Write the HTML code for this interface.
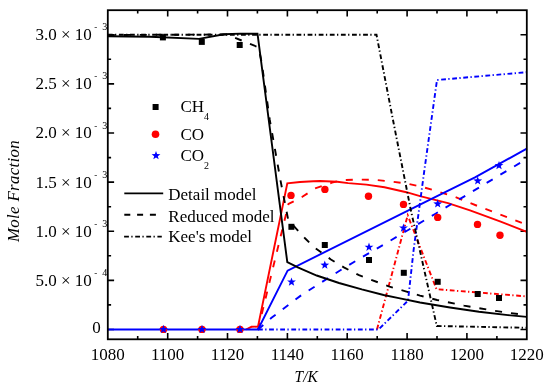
<!DOCTYPE html>
<html><head><meta charset="utf-8"><style>
html,body{margin:0;padding:0;background:#fff;}
svg{display:block;will-change:transform;}
text{font-family:"Liberation Serif",serif;font-size:17px;fill:#000;}
</style></head><body>
<svg width="550" height="392" viewBox="0 0 550 392">
<rect width="550" height="392" fill="#fff"/>
<path d="M137.7,339.3v-3.3M137.7,10.2v3.3M167.7,339.3v-6.3M167.7,10.2v6.3M197.6,339.3v-3.3M197.6,10.2v3.3M227.5,339.3v-6.3M227.5,10.2v6.3M257.4,339.3v-3.3M257.4,10.2v3.3M287.4,339.3v-6.3M287.4,10.2v6.3M317.3,339.3v-3.3M317.3,10.2v3.3M347.2,339.3v-6.3M347.2,10.2v6.3M377.2,339.3v-3.3M377.2,10.2v3.3M407.1,339.3v-6.3M407.1,10.2v6.3M437.0,339.3v-3.3M437.0,10.2v3.3M466.9,339.3v-6.3M466.9,10.2v6.3M496.9,339.3v-3.3M496.9,10.2v3.3M107.8,329.5h6.3M526.8,329.5h-6.3M107.8,304.9h3.3M526.8,304.9h-3.3M107.8,280.4h6.3M526.8,280.4h-6.3M107.8,255.8h3.3M526.8,255.8h-3.3M107.8,231.2h6.3M526.8,231.2h-6.3M107.8,206.7h3.3M526.8,206.7h-3.3M107.8,182.1h6.3M526.8,182.1h-6.3M107.8,157.6h3.3M526.8,157.6h-3.3M107.8,133.0h6.3M526.8,133.0h-6.3M107.8,108.4h3.3M526.8,108.4h-3.3M107.8,83.9h6.3M526.8,83.9h-6.3M107.8,59.3h3.3M526.8,59.3h-3.3M107.8,34.8h6.3M526.8,34.8h-6.3" stroke="#000" stroke-width="1.6" fill="none"/>
<polyline points="246.0,329.5 251.5,326.8 258.0,326.6 287.3,183.4 300.0,182.0 313.3,181.2 320.0,181.0 337.3,181.8 348.2,183.1 366.4,184.6 384.5,187.3 406.4,192.2 420.0,196.2 448.0,203.2 470.0,210.3 500.0,221.3 526.8,231.8" fill="none" stroke="#ff0000" stroke-width="1.9" stroke-linejoin="miter"/>
<polyline points="258.0,329.5 288.5,204.0 302.0,197.0 315.0,188.5 332.0,182.7 341.0,180.2 357.0,179.5 375.0,179.8 392.0,181.6 407.0,183.6 421.0,186.6 434.0,190.3 453.6,196.4 480.9,207.3 510.0,218.2 526.8,224.8" fill="none" stroke="#ff0000" stroke-width="1.9" stroke-dasharray="7 9" stroke-linejoin="miter"/>
<polyline points="377.0,329.5 407.7,215.3 436.5,289.2 526.8,296.4" fill="none" stroke="#ff0000" stroke-width="1.9" stroke-dasharray="4.8 2.4 1.3 2.6" stroke-linejoin="miter"/>
<polyline points="107.8,329.5 258.0,329.5 287.6,270.6 430.0,199.6 475.0,177.4 526.8,148.6" fill="none" stroke="#0000ff" stroke-width="1.9" stroke-linejoin="miter"/>
<polyline points="258.0,329.5 271.5,317.8 301.6,295.0 344.0,268.0 359.0,259.0 388.1,242.0 435.5,213.7 526.8,158.8" fill="none" stroke="#0000ff" stroke-width="1.9" stroke-dasharray="7 9" stroke-linejoin="miter"/>
<polyline points="258.0,329.5 378.5,329.5 408.0,300.7 413.6,250.0 424.4,170.0 437.0,80.0 526.8,72.2" fill="none" stroke="#0000ff" stroke-width="1.9" stroke-dasharray="4.8 2.4 1.3 2.6" stroke-linejoin="miter"/>
<polyline points="107.8,36.2 150.0,36.8 199.0,38.9 224.0,34.2 240.0,33.6 257.5,33.7 287.3,262.2 298.4,267.7 316.7,275.5 339.0,283.0 361.8,289.4 383.6,295.0 400.0,298.4 420.0,302.5 450.0,307.5 479.0,311.8 508.0,315.1 526.8,316.9" fill="none" stroke="#000" stroke-width="1.9" stroke-linejoin="miter"/>
<polyline points="107.8,35.0 226.6,34.5 241.6,40.5 258.4,47.3 261.6,62.0 269.8,120.0 280.4,180.0 288.2,219.8 305.0,238.3 314.5,247.5 330.9,259.5 343.9,267.4 359.0,275.2 389.6,286.7 420.0,295.6 437.0,300.0 464.0,305.6 494.5,310.8 526.8,315.3" fill="none" stroke="#000" stroke-width="1.9" stroke-dasharray="7 9" stroke-linejoin="miter"/>
<polyline points="107.8,34.8 376.5,34.8 393.0,120.0 410.8,210.0 436.8,326.0 526.8,327.8" fill="none" stroke="#000" stroke-width="1.9" stroke-dasharray="4.8 2.4 1.3 2.6" stroke-linejoin="miter"/>
<rect x="159.9" y="34.4" width="6.0" height="6.0" fill="#000"/>
<rect x="198.8" y="38.9" width="6.0" height="6.0" fill="#000"/>
<rect x="236.7" y="42.0" width="6.0" height="6.0" fill="#000"/>
<rect x="288.4" y="223.8" width="6.0" height="6.0" fill="#000"/>
<rect x="321.8" y="242.0" width="6.0" height="6.0" fill="#000"/>
<rect x="366.0" y="257.0" width="6.0" height="6.0" fill="#000"/>
<rect x="400.8" y="269.8" width="6.0" height="6.0" fill="#000"/>
<rect x="434.7" y="278.8" width="6.0" height="6.0" fill="#000"/>
<rect x="474.7" y="291.0" width="6.0" height="6.0" fill="#000"/>
<rect x="496.0" y="295.0" width="6.0" height="6.0" fill="#000"/>
<circle cx="163.5" cy="329.4" r="3.7" fill="#ff0000"/>
<circle cx="202" cy="329.4" r="3.7" fill="#ff0000"/>
<circle cx="240" cy="329.4" r="3.7" fill="#ff0000"/>
<circle cx="291" cy="195.4" r="3.7" fill="#ff0000"/>
<circle cx="324.9" cy="189.4" r="3.7" fill="#ff0000"/>
<circle cx="368.5" cy="196.3" r="3.7" fill="#ff0000"/>
<circle cx="403.5" cy="204.4" r="3.7" fill="#ff0000"/>
<circle cx="437.7" cy="217.4" r="3.7" fill="#ff0000"/>
<circle cx="477.5" cy="224.4" r="3.7" fill="#ff0000"/>
<circle cx="500" cy="235.3" r="3.7" fill="#ff0000"/>
<polygon points="163.5,324.8 164.6,327.9 167.9,328.0 165.3,330.0 166.2,333.1 163.5,331.3 160.8,333.1 161.7,330.0 159.1,328.0 162.4,327.9" fill="#0000ff"/>
<polygon points="202.0,324.8 203.1,327.9 206.4,328.0 203.8,330.0 204.7,333.1 202.0,331.3 199.3,333.1 200.2,330.0 197.6,328.0 200.9,327.9" fill="#0000ff"/>
<polygon points="240.0,324.8 241.1,327.9 244.4,328.0 241.8,330.0 242.7,333.1 240.0,331.3 237.3,333.1 238.2,330.0 235.6,328.0 238.9,327.9" fill="#0000ff"/>
<polygon points="291.5,277.4 292.6,280.5 295.9,280.6 293.3,282.6 294.2,285.7 291.5,283.9 288.8,285.7 289.7,282.6 287.1,280.6 290.4,280.5" fill="#0000ff"/>
<polygon points="324.8,260.5 325.9,263.6 329.2,263.7 326.6,265.7 327.5,268.8 324.8,267.0 322.1,268.8 323.0,265.7 320.4,263.7 323.7,263.6" fill="#0000ff"/>
<polygon points="369.0,242.6 370.1,245.7 373.4,245.8 370.8,247.8 371.7,250.9 369.0,249.1 366.3,250.9 367.2,247.8 364.6,245.8 367.9,245.7" fill="#0000ff"/>
<polygon points="403.5,223.4 404.6,226.5 407.9,226.6 405.3,228.6 406.2,231.7 403.5,229.9 400.8,231.7 401.7,228.6 399.1,226.6 402.4,226.5" fill="#0000ff"/>
<polygon points="437.7,199.2 438.8,202.3 442.1,202.4 439.5,204.4 440.4,207.5 437.7,205.7 435.0,207.5 435.9,204.4 433.3,202.4 436.6,202.3" fill="#0000ff"/>
<polygon points="477.7,176.2 478.8,179.3 482.1,179.4 479.5,181.4 480.4,184.5 477.7,182.7 475.0,184.5 475.9,181.4 473.3,179.4 476.6,179.3" fill="#0000ff"/>
<polygon points="499.0,160.9 500.1,164.0 503.4,164.1 500.8,166.1 501.7,169.2 499.0,167.4 496.3,169.2 497.2,166.1 494.6,164.1 497.9,164.0" fill="#0000ff"/>
<rect x="107.8" y="10.2" width="419.0" height="329.1" fill="none" stroke="#000" stroke-width="1.8"/>
<text x="107.8" y="360.2" text-anchor="middle">1080</text>
<text x="167.7" y="360.2" text-anchor="middle">1100</text>
<text x="227.5" y="360.2" text-anchor="middle">1120</text>
<text x="287.4" y="360.2" text-anchor="middle">1140</text>
<text x="347.2" y="360.2" text-anchor="middle">1160</text>
<text x="407.1" y="360.2" text-anchor="middle">1180</text>
<text x="466.9" y="360.2" text-anchor="middle">1200</text>
<text x="526.8" y="360.2" text-anchor="middle">1220</text>
<text x="35.5" y="40.1">3.0 &#215; 10</text>
<text x="94.2" y="30.2" style="font-size:9px">-</text>
<text x="102.3" y="30.2" style="font-size:10px">3</text>
<text x="35.5" y="89.3">2.5 &#215; 10</text>
<text x="94.2" y="79.4" style="font-size:9px">-</text>
<text x="102.3" y="79.4" style="font-size:10px">3</text>
<text x="35.5" y="138.4">2.0 &#215; 10</text>
<text x="94.2" y="128.5" style="font-size:9px">-</text>
<text x="102.3" y="128.5" style="font-size:10px">3</text>
<text x="35.5" y="187.5">1.5 &#215; 10</text>
<text x="94.2" y="177.6" style="font-size:9px">-</text>
<text x="102.3" y="177.6" style="font-size:10px">3</text>
<text x="35.5" y="236.7">1.0 &#215; 10</text>
<text x="94.2" y="226.8" style="font-size:9px">-</text>
<text x="102.3" y="226.8" style="font-size:10px">3</text>
<text x="35.5" y="285.8">5.0 &#215; 10</text>
<text x="94.2" y="275.9" style="font-size:9px">-</text>
<text x="102.3" y="275.9" style="font-size:10px">4</text>
<text x="92.2" y="332.8">0</text>
<text x="294.6" y="382.4" font-style="italic" textLength="23.2" lengthAdjust="spacingAndGlyphs">T/K</text>
<text transform="translate(18.6,242.0) rotate(-90)" font-style="italic" style="font-size:16.8px" textLength="101.6" lengthAdjust="spacing">Mole Fraction</text>
<rect x="152.6" y="104.0" width="6.0" height="6.0" fill="#000"/>
<circle cx="155.5" cy="134.2" r="3.8" fill="#ff0000"/>
<polygon points="156.0,151.0 157.1,154.1 160.4,154.2 157.8,156.2 158.7,159.3 156.0,157.5 153.3,159.3 154.2,156.2 151.6,154.2 154.9,154.1" fill="#0000ff"/>
<text x="180.4" y="112.4">CH<tspan font-size="10" dy="7.4">4</tspan></text>
<text x="180.4" y="140.0">CO</text>
<text x="180.4" y="161.3">CO<tspan font-size="10" dy="7.4">2</tspan></text>
<path d="M124.3,193.4H163.2" stroke="#000" stroke-width="1.9"/>
<path d="M124.3,214.8H156.4" stroke="#000" stroke-width="1.9" stroke-dasharray="6 6.8"/>
<path d="M124.1,236.6H161.8" stroke="#000" stroke-width="1.9" stroke-dasharray="4.8 2.4 1.3 2.6"/>
<text x="168.3" y="199.9">Detail model</text>
<text x="168.3" y="221.9">Reduced model</text>
<text x="168.3" y="242.1">Kee's model</text>
</svg>
</body></html>
